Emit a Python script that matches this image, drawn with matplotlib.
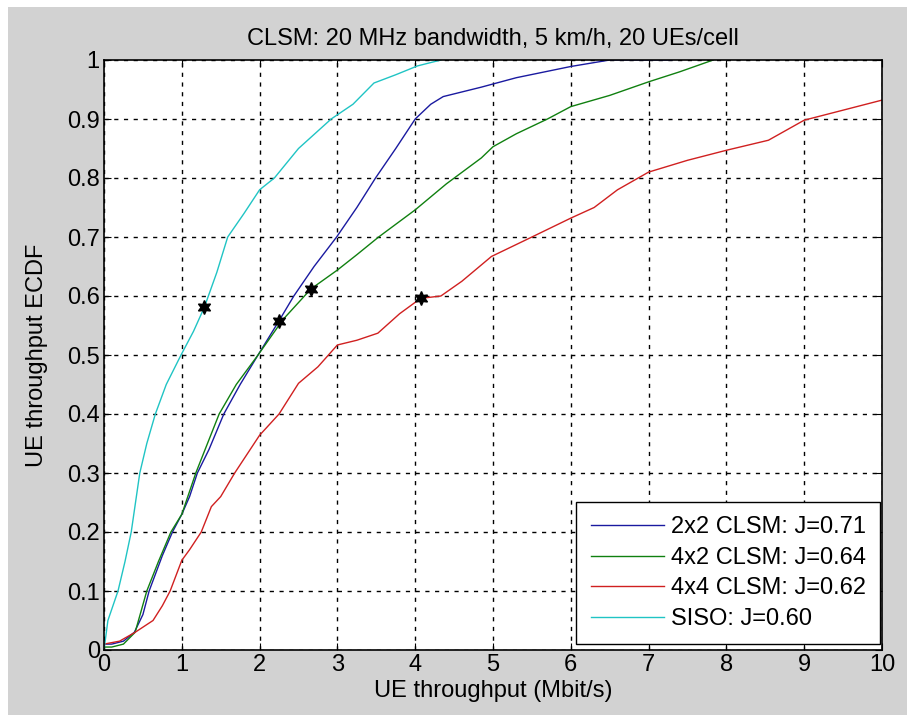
import matplotlib.pyplot as plt
from matplotlib.patches import Rectangle

plt.rcParams['font.family'] = ['Liberation Sans', 'DejaVu Sans']
plt.rcParams['font.size'] = 17

# ECDF curves (x in Mbit/s, y = ECDF)
x_2x2 = [0, 0.1, 0.25, 0.39, 0.5, 0.58, 0.75, 0.88, 1.0, 1.1, 1.2, 1.35, 1.54, 1.75, 1.98,
         2.25, 2.44, 2.7, 2.99, 3.25, 3.49, 3.75, 4.0, 4.2, 4.36, 4.85, 5.3, 6.0, 6.5, 7.3]
y_2x2 = [0.01, 0.01, 0.015, 0.03, 0.06, 0.10, 0.16, 0.20, 0.23, 0.26, 0.30, 0.34, 0.40, 0.45, 0.50,
         0.558, 0.60, 0.65, 0.70, 0.75, 0.80, 0.85, 0.90, 0.925, 0.938, 0.954, 0.97, 0.989, 1.0, 1.0]

x_4x2 = [0, 0.1, 0.25, 0.4, 0.55, 0.7, 0.86, 1.0, 1.18, 1.3, 1.48, 1.7, 1.98, 2.3, 2.66,
         3.0, 3.25, 3.53, 4.0, 4.4, 4.85, 5.0, 5.3, 5.7, 6.0, 6.5, 7.0, 7.4, 7.83]
y_4x2 = [0.005, 0.005, 0.01, 0.03, 0.10, 0.15, 0.20, 0.23, 0.30, 0.34, 0.40, 0.45, 0.50, 0.56, 0.612,
         0.644, 0.67, 0.70, 0.746, 0.79, 0.834, 0.853, 0.875, 0.90, 0.921, 0.94, 0.963, 0.98, 1.0]

x_4x4 = [0, 0.2, 0.4, 0.63, 0.75, 0.85, 1.0, 1.1, 1.25, 1.38, 1.5, 1.68, 2.0, 2.25, 2.5,
         2.75, 3.0, 3.25, 3.52, 3.8, 4.07, 4.33, 4.6, 4.98, 5.5, 6.0, 6.3, 6.6, 7.0,
         7.5, 8.0, 8.54, 9.0, 9.5, 10.0]
y_4x4 = [0.01, 0.015, 0.03, 0.05, 0.075, 0.10, 0.152, 0.17, 0.20, 0.243, 0.26, 0.30, 0.364, 0.40, 0.452,
         0.48, 0.517, 0.525, 0.537, 0.57, 0.596, 0.60, 0.625, 0.667, 0.70, 0.732, 0.75, 0.78, 0.81,
         0.83, 0.847, 0.864, 0.898, 0.915, 0.932]

x_siso = [0, 0.05, 0.18, 0.27, 0.35, 0.46, 0.55, 0.66, 0.8, 0.99, 1.15, 1.29, 1.45, 1.59, 1.8,
          2.0, 2.19, 2.5, 2.92, 3.2, 3.47, 3.75, 4.03, 4.33]
y_siso = [0.0, 0.05, 0.10, 0.15, 0.20, 0.30, 0.35, 0.40, 0.45, 0.50, 0.54, 0.581, 0.64, 0.70, 0.74,
          0.78, 0.80, 0.85, 0.90, 0.925, 0.961, 0.975, 0.99, 1.0]

# puntos marcados (marcadores negros)
mark_x = [2.25, 2.66, 4.07, 1.29]
mark_y = [0.558, 0.612, 0.596, 0.581]

labels = ['2x2 CLSM: J=0.71', '4x2 CLSM: J=0.64', '4x4 CLSM: J=0.62', 'SISO: J=0.60']
colores = ['#1a1aa0', '#108010', '#d02020', '#20c4c4']

fig = plt.figure(figsize=(9.07, 7.15), dpi=100, facecolor='white')
fig.patches.append(Rectangle((8 / 907, 0), 1, 1 - 7 / 715, transform=fig.transFigure,
                             facecolor='#d2d2d2', edgecolor='none', zorder=-1))
ax = fig.add_axes([104 / 907, 65 / 715, 778 / 907, 590 / 715])

for xs, ys, c, l in zip([x_2x2, x_4x2, x_4x4, x_siso], [y_2x2, y_4x2, y_4x4, y_siso], colores, labels):
    ax.plot(xs, ys, color=c, lw=1.0, label=l)

ax.plot(mark_x, mark_y, linestyle='none', marker=(6, 1, 0), markersize=10, color='black')

ax.set_xlim(0, 10)
ax.set_ylim(0, 1)
ax.set_xticks(range(0, 11))
ax.set_yticks([i / 10 for i in range(11)])
ax.set_yticklabels(['0', '0.1', '0.2', '0.3', '0.4', '0.5', '0.6', '0.7', '0.8', '0.9', '1'])
ax.grid(True, color='black', linestyle=(0, (3, 4)), linewidth=1.0)
ax.tick_params(direction='in', length=5, top=True, right=True, colors='black', labelsize=17, pad=3)
for s in ax.spines.values():
    s.set_linewidth(1.2)

ax.set_title('CLSM: 20 MHz bandwidth, 5 km/h, 20 UEs/cell', fontsize=17, pad=11)
ax.set_xlabel('UE throughput (Mbit/s)', fontsize=17, labelpad=3)
ax.set_ylabel('UE throughput ECDF', fontsize=17, labelpad=14)

leg = ax.legend(loc='lower right', fontsize=17, fancybox=False, framealpha=1,
                edgecolor='black', handlelength=3.1, borderpad=0.6, labelspacing=0.36,
                handletextpad=0.3, borderaxespad=0, bbox_to_anchor=(0.9974, 0.01))
leg.get_frame().set_linewidth(1.0)

plt.savefig('out.png', dpi=100, facecolor=fig.get_facecolor())
